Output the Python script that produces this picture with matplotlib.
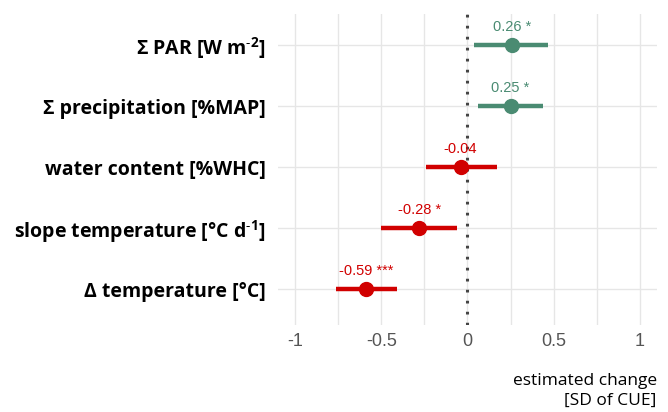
import matplotlib.pyplot as plt
import numpy as np

plt.rcParams["font.family"] = ["Open Sans", "DejaVu Sans"]
plt.rcParams["mathtext.fontset"] = "custom"
plt.rcParams["mathtext.rm"] = "Open Sans"
plt.rcParams["mathtext.bf"] = "Open Sans:bold"

# rows from bottom to top
labels = [
    r"Δ temperature [°C]",
    r"slope temperature [°C d$^{\mathbf{\text{-}1}}$]",
    r"water content [%WHC]",
    r"Σ precipitation [%MAP]",
    r"Σ PAR [W m$^{\mathbf{\text{-}2}}$]",
]
estimate = [-0.59, -0.28, -0.04, 0.25, 0.26]
ci_low = [-0.76, -0.50, -0.24, 0.06, 0.04]
ci_high = [-0.41, -0.06, 0.17, 0.44, 0.47]
stars = ["***", "*", "", "*", "*"]

GREEN = "#4A8B72"
RED = "#D10000"

fig = plt.figure(figsize=(6.68, 4.12), dpi=100)
ax = fig.add_axes([0.416, 0.211, 0.5675, 0.755])

y = np.arange(1, len(labels) + 1)
for yi, est, lo, hi, st in zip(y, estimate, ci_low, ci_high, stars):
    col = GREEN if est > 0 else RED
    ax.plot([lo, hi], [yi, yi], color=col, lw=3.2, solid_capstyle="butt", zorder=3)
    ax.plot(est, yi, "o", color=col, ms=10, zorder=4)
    txt = f"{est:.2f}" + (f" {st}" if st else "")
    ax.text(est, yi + 0.18, txt, color=col, fontsize=10.5, ha="center", va="bottom",
            family=["Liberation Sans", "DejaVu Sans"], zorder=5)

ax.axvline(0, color="#444444", lw=2.2, ls=(0, (0.9, 2.7)), zorder=2)

ax.set_xlim(-1.1, 1.1)
ax.set_ylim(0.41, 5.51)
ax.set_xticks([-1, -0.5, 0, 0.5, 1])
ax.set_xticklabels(["-1", "-0.5", "0", "0.5", "1"])
ax.set_xticks([-0.75, -0.25, 0.25, 0.75], minor=True)
ax.set_yticks(y)
ax.set_yticklabels(labels)
for t in ax.get_yticklabels():
    t.set_fontweight("bold")
    t.set_fontsize(14)
ax.tick_params(axis="y", length=0, pad=9, colors="black")
ax.tick_params(axis="x", which="both", length=0, pad=6, labelsize=13, labelcolor="#555555")
for t in ax.get_xticklabels():
    t.set_family(["Liberation Sans", "DejaVu Sans"])
ax.grid(True, which="major", color="#E6E6E6", lw=1)
ax.grid(True, which="minor", axis="x", color="#E6E6E6", lw=1)
ax.set_axisbelow(True)
for s in ax.spines.values():
    s.set_visible(False)

fig.text(0.983, 0.008, "estimated change\n[SD of CUE]", ha="right", va="bottom",
         fontsize=12.5, linespacing=1.3)

fig.savefig("out.png", dpi=100)
